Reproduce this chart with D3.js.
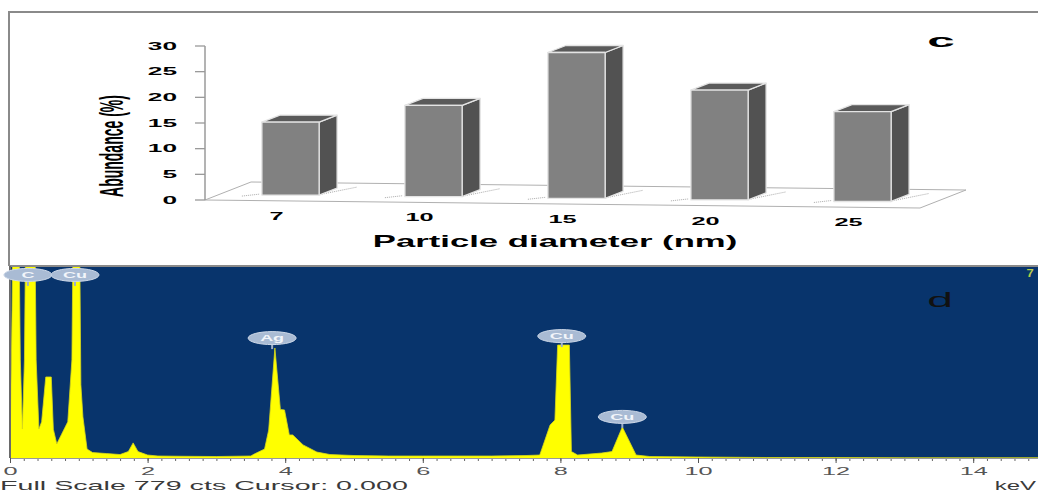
<!DOCTYPE html>
<html>
<head>
<meta charset="utf-8">
<script src="https://cdn.jsdelivr.net/npm/d3@7"></script>
<style>
  body { margin: 0; background: #fff; }
  text { font-family: "Liberation Sans", Arial, sans-serif; }
</style>
</head>
<body>
<script>
// size of the picture
var W = 1038, H = 493;

// panel c: particle size distribution
var sizes = ['7', '10', '15', '20', '25'];
var abundance = [14.2, 17.8, 28.4, 21.4, 17.5];
var yTicks = [0, 5, 10, 15, 20, 25, 30];

// panel d: EDS spectrum (keV, counts)
var energy = [0.00, 0.03, 0.05, 0.12, 0.15, 0.18, 0.21, 0.24, 0.35, 0.38,
              0.42, 0.46, 0.52, 0.60, 0.63, 0.68, 0.75, 0.84, 0.90, 0.93,
              1.00, 1.03, 1.06, 1.12, 1.20, 1.40, 1.60, 1.72, 1.79, 1.86,
              2.00, 2.15, 2.50, 3.00, 3.50, 3.55, 3.70, 3.76, 3.85, 3.93,
              3.99, 4.06, 4.11, 4.26, 4.46, 4.65, 5.00, 5.50, 6.00, 6.50,
              7.00, 7.50, 7.70, 7.85, 7.92, 7.96, 8.13, 8.16, 8.25, 8.60,
              8.75, 8.90, 9.10, 9.30, 10.0, 11.0, 12.0, 13.0, 14.0, 15.0];
var counts = [20, 600, 1200, 1200, 400, 121, 400, 1300, 1300, 400,
              121, 150, 331, 331, 120, 61, 100, 150, 400, 1300,
              1300, 300, 170, 40, 26, 22, 18, 30, 65, 30,
              16, 12, 11, 10, 12, 20, 40, 117, 448, 200,
              198, 97, 97, 57, 28, 18, 14, 12, 12, 12,
              12, 14, 16, 137, 157, 460, 460, 30, 16, 24,
              30, 129, 16, 10, 8, 6, 6, 5, 5, 5];
var fullScale = 779;
var xTicks = [0, 2, 4, 6, 8, 10, 12, 14];
var peakNames = ['C', 'Cu', 'Ag', 'Cu', 'Cu'];
var peakEnergy = [0.26, 0.945, 3.81, 8.02, 8.90];
var peakLabelCounts = [743, 743, 488, 496, 170];

var svg = d3.select('body').append('svg')
            .attr('width', W)
            .attr('height', H);

svg.append('rect').attr('width', W).attr('height', H).attr('fill', '#fff');

// stretched text helper (the scan is widened horizontally)
function label(g, x, y, txt, sx, size, weight, anchor, fill) {
  return g.append('text')
          .attr('transform', 'translate(' + x + ',' + y + ') scale(' + sx + ',1)')
          .attr('text-anchor', anchor || 'middle')
          .style('font-size', size + 'px')
          .style('font-weight', weight || 'normal')
          .attr('fill', fill || '#000')
          .text(txt);
}

// ---------- top panel (c) ----------
var topG = svg.append('g');

topG.append('path')
   .attr('d', 'M9,266 L9,12 L1038,12')
   .attr('fill', 'none')
   .attr('stroke', '#8a8a8a')
   .attr('stroke-width', 2);

var yScale = d3.scaleLinear().domain([0, 30]).range([200, 46]);
var xBand = d3.scaleBand().domain(sizes).range([205, 920])
              .paddingInner(0.6).paddingOuter(0.3);
var tilt = 8 / 715;
function frontY(px) { return yScale(0) + (px - 205) * tilt; }
var floorD = [46, -18], barOff = [14, -5.4], barD = [18, -7];

// floor
var fl = [[205, frontY(205)], [920, frontY(920)],
          [920 + floorD[0], frontY(920) + floorD[1]],
          [205 + floorD[0], frontY(205) + floorD[1]]];
topG.append('polygon')
   .attr('points', fl.map(function(p) { return p.join(','); }).join(' '))
   .attr('fill', 'none')
   .attr('stroke', '#b0b0b0')
   .attr('stroke-width', 1);

// y axis
topG.append('line')
   .attr('x1', 205).attr('x2', 205)
   .attr('y1', yScale(30)).attr('y2', yScale(0))
   .attr('stroke', '#9a9a9a').attr('stroke-width', 1.5);
yTicks.forEach(function(t) {
  topG.append('line')
     .attr('x1', 195).attr('x2', 205)
     .attr('y1', yScale(t)).attr('y2', yScale(t))
     .attr('stroke', '#9a9a9a').attr('stroke-width', 1.3);
  label(topG, 177, yScale(t) + 3.8, t, 2.5, 10.5, 'bold', 'end');
});

// bars
var bw = xBand.bandwidth();
sizes.forEach(function(s, i) {
  var x0 = xBand(s) + barOff[0];
  var x1 = x0 + bw;
  var yb = frontY(xBand(s)) + barOff[1];
  var yt = yb - (yScale(0) - yScale(abundance[i]));

  // faint shadow hatching on the floor
  topG.append('line')
     .attr('x1', x0 - 20).attr('x2', x0 - 2)
     .attr('y1', yb + 1).attr('y2', yb - 1)
     .attr('stroke', '#aaa').attr('stroke-dasharray', '1,1');
  topG.append('line')
     .attr('x1', x1 + 3).attr('x2', x1 + 38)
     .attr('y1', yb - 1).attr('y2', yb - 8)
     .attr('stroke', '#aaa').attr('stroke-dasharray', '1,1');

  var g = topG.append('g').attr('stroke', '#e4e4e4').attr('stroke-width', 1.3)
             .attr('stroke-linejoin', 'round');
  g.append('polygon')
   .attr('points', [[x1, yb], [x1 + barD[0], yb + barD[1]],
                    [x1 + barD[0], yt + barD[1]], [x1, yt]].join(' '))
   .attr('fill', '#525252');
  g.append('polygon')
   .attr('points', [[x0, yt], [x1, yt], [x1 + barD[0], yt + barD[1]],
                    [x0 + barD[0], yt + barD[1]]].join(' '))
   .attr('fill', '#5a5a5a');
  g.append('rect')
   .attr('x', x0).attr('y', yt)
   .attr('width', bw).attr('height', yb - yt)
   .attr('fill', '#818181');

  var cx = xBand(s) + bw / 2;
  label(topG, cx, frontY(cx) + 19, s, 2.3, 11, 'bold');
});

label(topG, 555, 247, 'Particle diameter (nm)', 2.17, 16, 'bold');
topG.append('text')
   .attr('transform', 'translate(123,146) scale(2.4,1) rotate(-90)')
   .attr('text-anchor', 'middle')
   .style('font-size', '14px')
   .style('font-weight', 'bold')
   .text('Abundance (%)');
label(topG, 941, 47, 'c', 2.6, 19, 'bold');

// ---------- bottom panel (d) ----------
var bot = svg.append('g');
var plotL = 11, plotR = 1038, plotT = 267, plotB = 458;

bot.append('line')
   .attr('x1', 9).attr('x2', 1038).attr('y1', 266).attr('y2', 266)
   .attr('stroke', '#8a8a8a').attr('stroke-width', 2);
bot.append('line')
   .attr('x1', 10).attr('x2', 10).attr('y1', 266).attr('y2', plotB)
   .attr('stroke', '#6a6a6a').attr('stroke-width', 2);
bot.append('rect')
   .attr('x', plotL).attr('y', plotT)
   .attr('width', plotR - plotL).attr('height', plotB - plotT)
   .attr('fill', '#08346c');

svg.append('defs').append('clipPath')
   .attr('id', 'clip')
   .append('rect')
   .attr('x', plotL).attr('y', plotT)
   .attr('width', plotR - plotL).attr('height', plotB - plotT);

var xE = d3.scaleLinear().domain([0, 15]).range([10, 1042]);
var yC = d3.scaleLinear().domain([0, fullScale]).range([459, 266]);

var spec = energy.map(function(e, i) { return {e: e, c: counts[i]}; });
var area = d3.area()
             .x(function(d) { return xE(d.e); })
             .y0(yC(0))
             .y1(function(d) { return yC(d.c); });

bot.append('path')
   .datum(spec)
   .attr('clip-path', 'url(#clip)')
   .attr('d', area)
   .attr('fill', '#ffff00')
   .attr('stroke', '#d8d81a')
   .attr('stroke-width', 0.8);

// axis: minor ticks every 0.2 keV, majors labelled
var minor = d3.range(0, 15.01, 0.2);
bot.append('g')
   .attr('transform', 'translate(0,' + plotB + ')')
   .call(d3.axisBottom(xE).tickValues(minor).tickSize(3).tickFormat(''))
   .call(function(g) {
     g.select('.domain').remove();
     g.selectAll('line').attr('stroke', '#666');
   });
var ax = bot.append('g')
   .attr('transform', 'translate(0,' + plotB + ')')
   .call(d3.axisBottom(xE).tickValues(xTicks).tickSize(5).tickPadding(4));
ax.select('.domain').attr('stroke', '#999');
ax.selectAll('line').attr('stroke', '#555');
ax.selectAll('text')
  .attr('transform', 'scale(2.3,1)')
  .attr('fill', '#555')
  .style('font-size', '11px')
  .style('font-family', '"Liberation Sans", Arial, sans-serif');

// peak labels
peakNames.forEach(function(n, i) {
  var px = xE(peakEnergy[i]), py = yC(peakLabelCounts[i]);
  bot.append('line')
     .attr('x1', px).attr('x2', px)
     .attr('y1', py).attr('y2', py + 11)
     .attr('stroke', '#9fb0c8').attr('stroke-width', 2);
  bot.append('ellipse')
     .attr('cx', px).attr('cy', py)
     .attr('rx', 24).attr('ry', 6.5)
     .attr('fill', '#a9bbd4')
     .attr('stroke', '#cdd8e8').attr('stroke-width', 1);
  label(bot, px, py + 3.3, n, 2, 9, 'bold', 'middle', '#f2f5fa');
});

label(bot, 940, 307, 'd', 2.2, 21, 'normal', 'middle', '#111');
label(bot, 1030, 277, '7', 1.3, 10, 'bold', 'middle', '#b8cc4a');

label(bot, 0, 490, 'Full Scale 779 cts Cursor: 0.000', 2.39, 12, 'normal', 'start', '#3a3a3a');
label(bot, 1036, 490, 'keV', 2.0, 12, 'normal', 'end', '#3a3a3a');
</script>
</body>
</html>
